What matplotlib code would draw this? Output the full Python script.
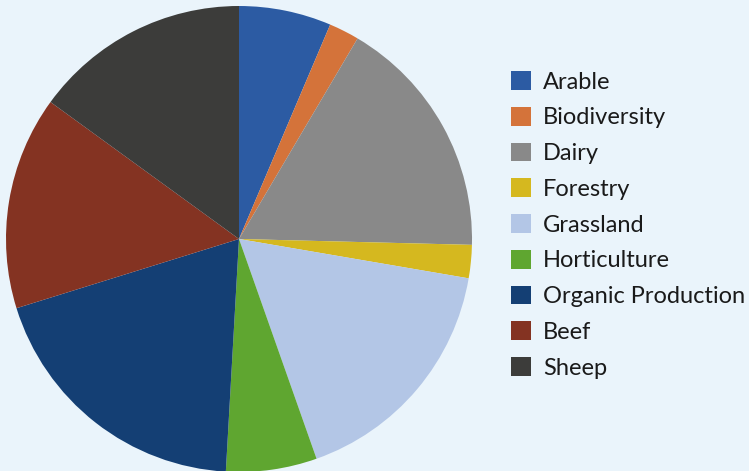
import matplotlib.pyplot as plt
from matplotlib.patches import Patch

labels = ["Arable", "Biodiversity", "Dairy", "Forestry", "Grassland",
          "Horticulture", "Organic Production", "Beef", "Sheep"]
values = [6.4, 2.1, 16.9, 2.3, 16.9, 6.3, 19.3, 14.8, 15.0]
colors = ["#2C5BA3", "#D4733A", "#898989", "#D5B81F", "#B3C6E6",
          "#5FA630", "#143F74", "#843322", "#3C3C3A"]

bg = "#EAF4FB"
W, H = 749, 471
fig = plt.figure(figsize=(W / 100, H / 100), dpi=100, facecolor=bg)

# pie: centre (239, 239) px from top-left, radius 233 px
cx, cy, r = 239, 239, 233
ax = fig.add_axes([(cx - r) / W, (H - cy - r) / H, 2 * r / W, 2 * r / H])
ax.set_facecolor(bg)
wedges, _ = ax.pie(values, colors=colors, startangle=90, counterclock=False,
                   radius=1, wedgeprops=dict(linewidth=0))
ax.set_xlim(-1, 1)
ax.set_ylim(-1, 1)
ax.set_aspect("equal")
ax.axis("off")

handles = [Patch(facecolor=c, edgecolor="none") for c in colors]
fs = 17
leg = fig.legend(handles, labels, loc="upper left",
                 bbox_to_anchor=(511 / W, 1 - 71 / H),
                 frameon=False, prop=dict(family="Lato", size=fs),
                 handlelength=0.85, handleheight=0.85,
                 handletextpad=0.5, labelspacing=0.6,
                 borderpad=0, borderaxespad=0)
for t in leg.get_texts():
    t.set_color("#1a1a1a")

fig.savefig("out.png", dpi=100, facecolor=bg)
